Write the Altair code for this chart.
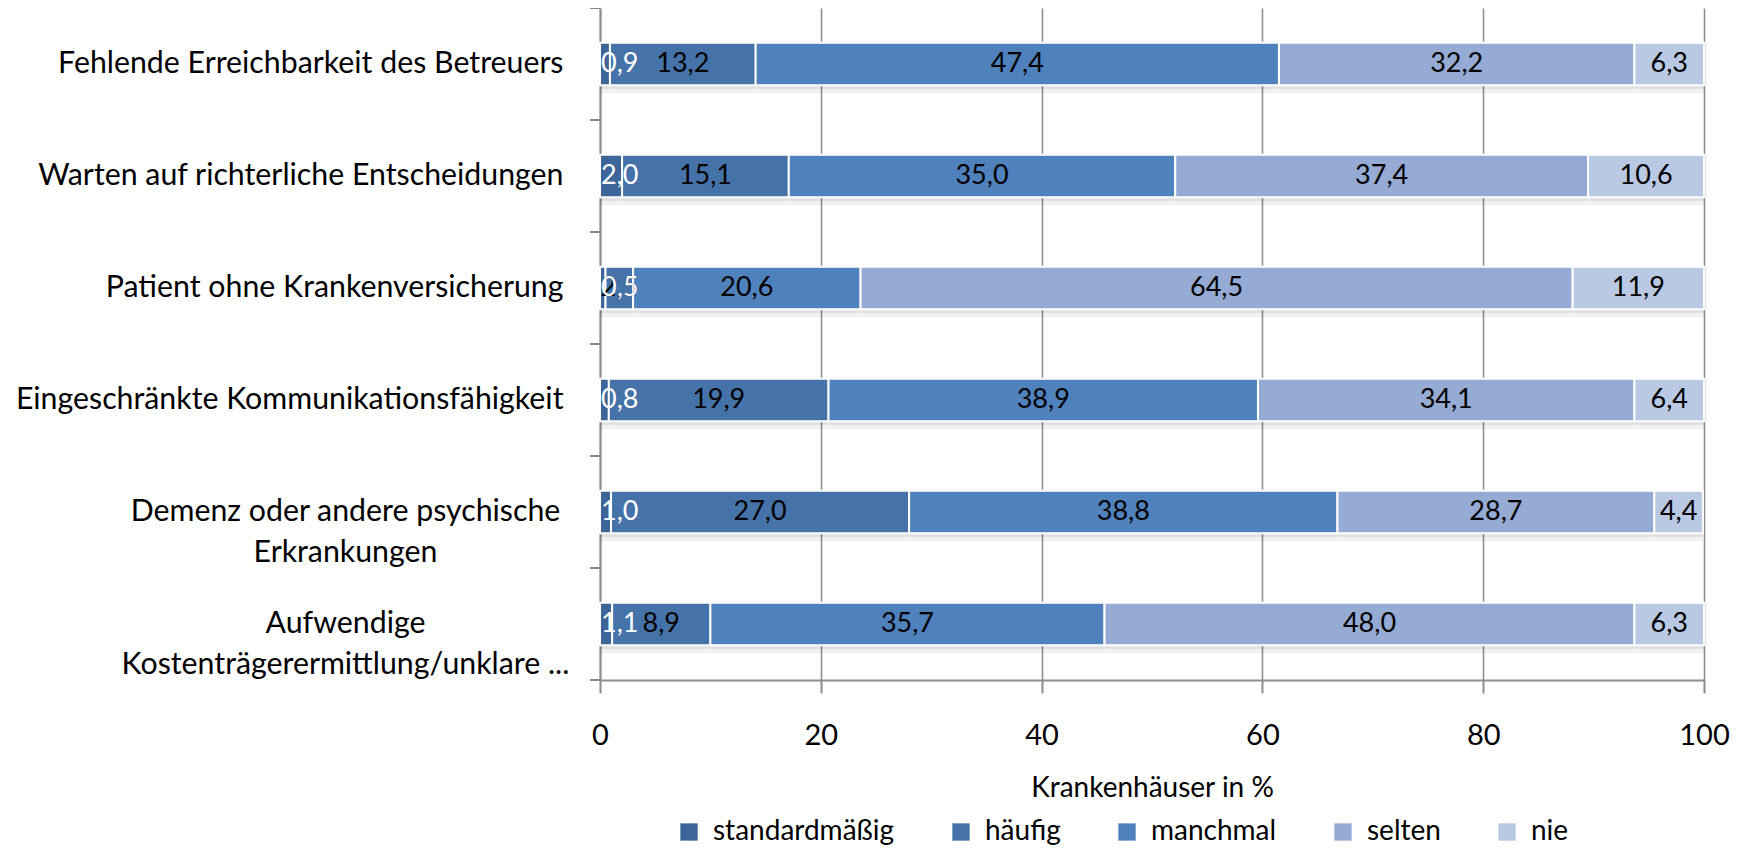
import altair as alt
import pandas as pd

categories = [
    "Fehlende Erreichbarkeit des Betreuers",
    "Warten auf richterliche Entscheidungen",
    "Patient ohne Krankenversicherung",
    "Eingeschränkte Kommunikationsfähigkeit",
    "Demenz oder andere psychische|Erkrankungen",
    "Aufwendige|Kostenträgerermittlung/unklare ...",
]
series = ["standardmäßig", "häufig", "manchmal", "selten", "nie"]
colors = ["#3d6597", "#4573a9", "#4f81bd", "#95abd3", "#b9c9e3"]

standardmaessig = [0.9, 2.0, 0.5, 0.8, 1.0, 1.1]
haeufig = [13.2, 15.1, 2.5, 19.9, 27.0, 8.9]
manchmal = [47.4, 35.0, 20.6, 38.9, 38.8, 35.7]
selten = [32.2, 37.4, 64.5, 34.1, 28.7, 48.0]
nie = [6.3, 10.6, 11.9, 6.4, 4.4, 6.3]

values_by_series = [standardmaessig, haeufig, manchmal, selten, nie]
rows = []
for ci, cat in enumerate(categories):
    start = 0.0
    for si, s in enumerate(series):
        v = values_by_series[si][ci]
        end = start + v
        rows.append({
            "cat": cat, "series": s, "value": v, "order": si,
            "x0": start, "x1": min(end, 100.0), "mid": (start + min(end, 100.0)) / 2,
            "lbl": f"{v:.1f}".replace(".", ","),
        })
        start = end
df = pd.DataFrame(rows)

FONT = "Lato"
GRAY = "#8c8c8c"
HEIGHT = 672
HALF_STEP = HEIGHT / len(categories) / 2

y_scale = alt.Scale(paddingInner=0.62, paddingOuter=0.31)
y_axis = alt.Axis(
    title=None,
    labelExpr="split(datum.value, '|')",
    labelFontSize=30.3,
    labelFont=FONT,
    labelColor="black",
    labelLineHeight=41,
    labelLimit=700,
    labelAlign={"condition": {"test": "indexof(datum.value, '|') >= 0", "value": "center"}, "value": "right"},
    labelPadding={"condition": {"test": "indexof(datum.value, '|') >= 0", "value": 255}, "value": 37},
    ticks=False,
    domainColor=GRAY,
    domainWidth=2,
    grid=False,
)
y_enc = alt.Y("cat:N", sort=categories, scale=y_scale, axis=y_axis)

x_scale = alt.Scale(domain=[0, 100], nice=False)
x_axis = alt.Axis(
    orient="bottom",
    values=[0, 20, 40, 60, 80, 100],
    title="Krankenhäuser in %",
    titleFont=FONT,
    titleFontSize=28,
    titleFontWeight="normal",
    titleColor="black",
    titlePadding=24,
    labelFont=FONT,
    labelFontSize=29,
    labelColor="black",
    labelPadding=28,
    labelFlush=False,
    grid=True,
    gridColor=GRAY,
    gridWidth=1.5,
    domainColor=GRAY,
    domainWidth=2,
    tickColor=GRAY,
    tickWidth=2,
    tickSize=13,
)

base = alt.Chart(df)

shadow1 = base.mark_bar(color="#000000", opacity=0.07, yOffset=4).encode(
    y=y_enc, x=alt.X("x0:Q", scale=x_scale, axis=x_axis), x2="x1:Q"
)
shadow2 = base.mark_bar(color="#000000", opacity=0.05, yOffset=8).encode(
    y=y_enc, x=alt.X("x0:Q", scale=x_scale, axis=x_axis), x2="x1:Q"
)

bars = base.mark_bar(stroke="white", strokeWidth=2).encode(
    y=y_enc,
    x=alt.X("x0:Q", scale=x_scale, axis=x_axis),
    x2="x1:Q",
    color=alt.Color(
        "series:N",
        sort=series,
        scale=alt.Scale(domain=series, range=colors),
        legend=alt.Legend(
            title=None,
            orient="none",
            legendX=75,
            legendY=810,
            direction="horizontal",
            symbolType="square",
            symbolSize=300,
            symbolStrokeWidth=0,
            labelFont=FONT,
            labelFontSize=28,
            labelColor="black",
            labelLimit=400,
            columnPadding=52,
            labelOffset=10,
        ),
    ),
)

first = df[df["series"] == series[0]]
rest = df[df["series"] != series[0]]

texts_first = alt.Chart(first).mark_text(
    font=FONT, fontSize=27, baseline="middle", align="left", dx=1, color="white"
).encode(
    y=y_enc,
    x=alt.X("x0:Q", scale=x_scale, axis=x_axis),
    text="lbl:N",
)

texts_rest = alt.Chart(rest).mark_text(
    font=FONT, fontSize=27, baseline="middle", align="center", color="black"
).encode(
    y=y_enc,
    x=alt.X("mid:Q", scale=x_scale, axis=x_axis),
    text="lbl:N",
)

cat_ticks = alt.Chart(first).mark_rule(color=GRAY, strokeWidth=2, yOffset=-HALF_STEP).encode(
    y=y_enc, x=alt.value(-10), x2=alt.value(0)
)
bottom_tick = alt.Chart(first.tail(1)).mark_rule(color=GRAY, strokeWidth=2, yOffset=HALF_STEP).encode(
    y=y_enc, x=alt.value(-10), x2=alt.value(0)
)

chart = (
    alt.layer(shadow2, shadow1, bars, texts_rest, texts_first, cat_ticks, bottom_tick)
    .properties(
        width=1104,
        height=HEIGHT,
        autosize=alt.AutoSizeParams(type="none"),
        padding={"left": 592, "top": 0, "right": 30, "bottom": 170},
    )
    .configure_view(stroke=None)
)

chart.save("out.html", embed_options={"renderer": "svg", "actions": False})
